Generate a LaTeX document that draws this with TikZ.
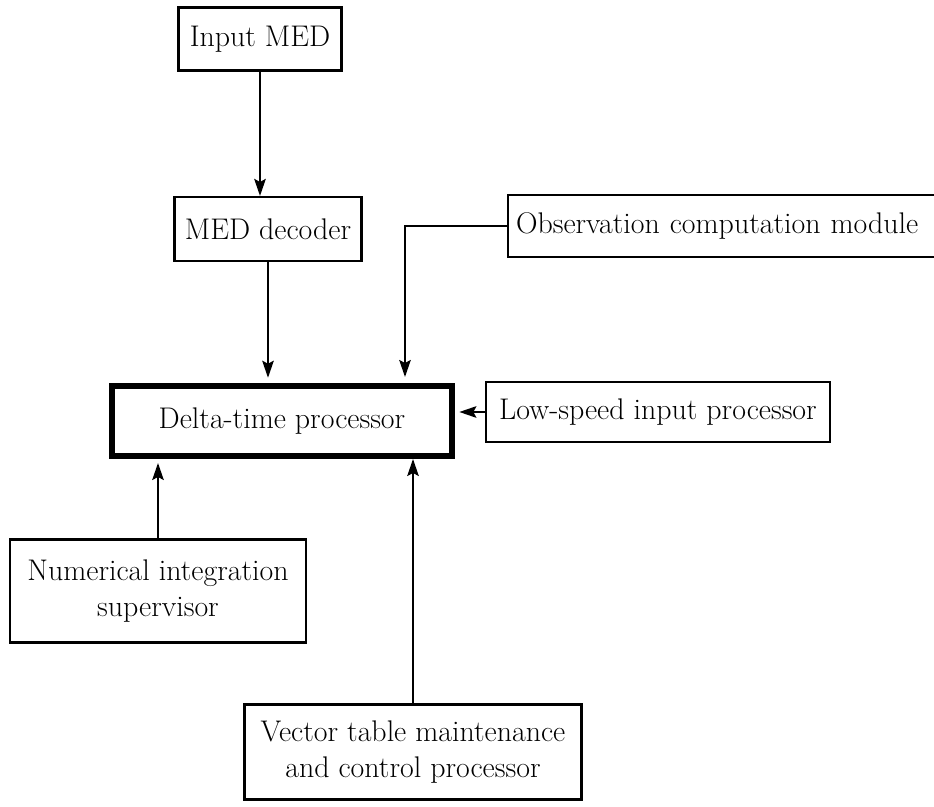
\documentclass[tikz,border=0pt]{standalone}
\usetikzlibrary{arrows.meta}
\begin{document}
\begin{tikzpicture}[x=0.02cm,y=-0.02cm,>={Stealth[length=3.4mm,width=2.3mm,inset=0.6mm]},
    box/.style={draw,line width=1.2pt,align=center,inner sep=0pt,font=\fontsize{17}{21}\selectfont},
    link/.style={line width=1.2pt}]
      \clip (0,0) rectangle (934,807);
      % blocks
      \node[box,minimum width=3.26cm,minimum height=1.26cm] (in) at (260,39) {Input MED};
      \node[box,minimum width=3.74cm,minimum height=1.28cm] (dec) at (268,229) {MED decoder};
      \node[box,anchor=west,text width=8.44cm,inner xsep=0.16cm,align=left,minimum height=1.24cm] (obs) at (507,226) {Observation computation module};
      \node[box,line width=3.4pt,minimum width=6.8cm,minimum height=1.4cm] (delta) at (282,421) {Delta-time processor};
      \node[box,minimum width=6.88cm,minimum height=1.2cm] (low) at (658,412) {Low-speed input processor};
      \node[box,minimum width=5.92cm,minimum height=2.06cm] (num) at (158,591) {Numerical integration\\supervisor};
      \node[box,minimum width=6.74cm,minimum height=1.9cm] (vec) at (413,752) {Vector table maintenance\\and control processor};
      % arrow ends at the delta-time box
      \coordinate (d1) at (405,377);
      \coordinate (d2) at (158,463);
      \coordinate (d3) at (413,459);
      % links
      \draw[link,->] (in.south) -- (in.south |- dec.north);
      \draw[link,->,shorten >=3pt] (dec.south) -- (dec.south |- delta.north);
      \draw[link,->] (obs.west) -| (d1);
      \draw[link,->,shorten >=2.5pt] (low.west) -- (low.west -| delta.east);
      \draw[link,->] (num.north) -- (d2);
      \draw[link,->] (vec.north) -- (d3);
\end{tikzpicture}
\end{document}
